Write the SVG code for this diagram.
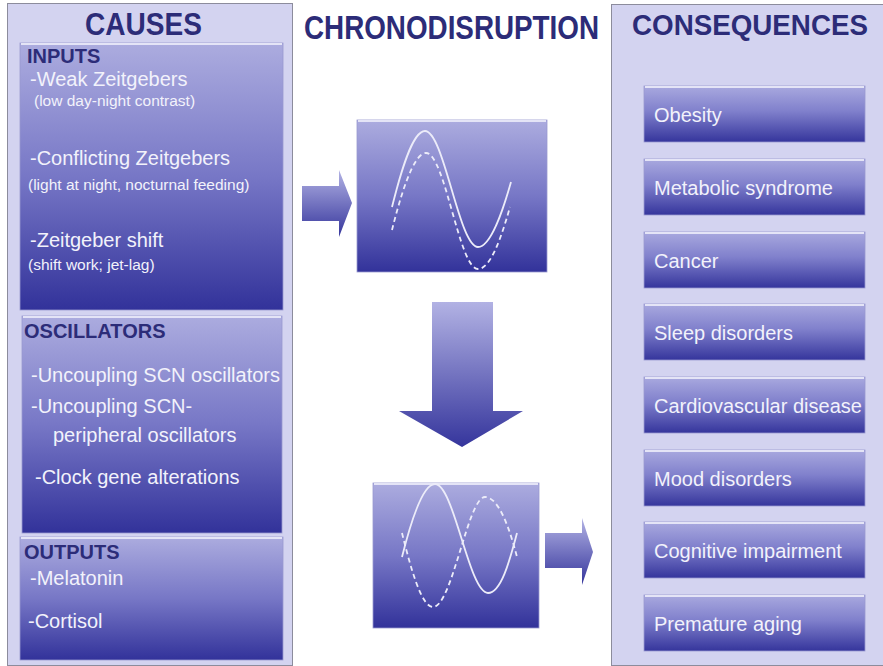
<svg xmlns="http://www.w3.org/2000/svg" width="883" height="666" viewBox="0 0 883 666">
<defs>
<linearGradient id="gBox" x1="0" y1="0" x2="0" y2="1">
<stop offset="0" stop-color="#acacdf"/>
<stop offset="0.5" stop-color="#7777c6"/>
<stop offset="1" stop-color="#32329a"/>
</linearGradient>
<linearGradient id="gBtn" x1="0" y1="0" x2="0" y2="1">
<stop offset="0" stop-color="#a9a9df"/>
<stop offset="0.45" stop-color="#8080cc"/>
<stop offset="1" stop-color="#35359c"/>
</linearGradient>
<linearGradient id="gArrow" x1="0" y1="0" x2="0" y2="1">
<stop offset="0" stop-color="#b2b2e4"/>
<stop offset="1" stop-color="#35359c"/>
</linearGradient>
<style>
.panel{fill:#d3d3f0;stroke:#8c8c9c;stroke-width:1}
.box{fill:url(#gBox);stroke:#9a9ad0;stroke-width:0.8}
.btn{fill:url(#gBtn);stroke:#9a9ad0;stroke-width:0.8}
.hl{stroke:#e4e4f6;stroke-width:2}
.title{font-family:"Liberation Sans",Arial,sans-serif;font-weight:bold;fill:#2c2c78}
.head{font-family:"Liberation Sans",Arial,sans-serif;font-weight:bold;font-size:20px;fill:#2c2c78}
.t{font-family:"Liberation Sans",Arial,sans-serif;font-size:20px;fill:#f2f2fb}
.s{font-family:"Liberation Sans",Arial,sans-serif;font-size:15.5px;fill:#f2f2fb}
.wave{fill:none;stroke:#ececf9;stroke-width:1.8}
.dash{stroke-dasharray:5 3.5}
.arrow{fill:url(#gArrow)}
</style>
</defs>
<rect width="883" height="666" fill="#ffffff"/>

<g id="causes-panel">
<rect class="panel" x="7.5" y="3.5" width="285" height="662"/>
<text class="title" x="85" y="35" font-size="31" textLength="117" lengthAdjust="spacingAndGlyphs">CAUSES</text>
</g>

<g id="inputs">
<rect class="box" x="20" y="43" width="263" height="267"/>
<line class="hl" x1="21" y1="44" x2="282" y2="44"/>
<text class="head" x="27" y="63">INPUTS</text>
<text class="t" x="30" y="86">-Weak Zeitgebers</text>
<text class="s" x="34" y="106">(low day-night contrast)</text>
<text class="t" x="30" y="165">-Conflicting Zeitgebers</text>
<text class="s" x="28" y="190">(light at night, nocturnal feeding)</text>
<text class="t" x="30" y="247">-Zeitgeber shift</text>
<text class="s" x="28" y="270">(shift work; jet-lag)</text>
</g>

<g id="oscillators">
<rect class="box" x="22" y="316" width="260" height="217"/>
<line class="hl" x1="23" y1="317" x2="281" y2="317"/>
<text class="head" x="24" y="338">OSCILLATORS</text>
<text class="t" x="31" y="382">-Uncoupling SCN oscillators</text>
<text class="t" x="31" y="413">-Uncoupling SCN-</text>
<text class="t" x="53" y="442">peripheral oscillators</text>
<text class="t" x="35" y="484">-Clock gene alterations</text>
</g>

<g id="outputs">
<rect class="box" x="20" y="537" width="263" height="123"/>
<line class="hl" x1="21" y1="538" x2="282" y2="538"/>
<text class="head" x="24" y="559">OUTPUTS</text>
<text class="t" x="30" y="585">-Melatonin</text>
<text class="t" x="28" y="628">-Cortisol</text>
</g>

<g id="chronodisruption-title">
<text class="title" x="304" y="39" font-size="33" textLength="295" lengthAdjust="spacingAndGlyphs">CHRONODISRUPTION</text>
</g>

<g id="wave-synced">
<rect class="box" x="357" y="120" width="190" height="152"/>
<line class="hl" x1="358" y1="121" x2="546" y2="121"/>
<path class="wave" d="M392,207 C400,175 412,131 425,131 C444,131 459,247 478,247 C491,247 503,210 511,182"/>
<path class="wave dash" d="M392,230 C400,198 413,153 426,153 C445,153 459,269 478,269 C491,269 502,235 510,207"/>
</g>

<g id="wave-disrupted">
<rect class="box" x="373" y="483" width="166" height="145"/>
<line class="hl" x1="374" y1="484" x2="538" y2="484"/>
<path class="wave" d="M402,557 C410,525 422,484 435,484 C454,484 469,593 488,593 C502,593 511,555 517,533"/>
<path class="wave dash" d="M402,533 C410,565 421,607 433,607 C452,607 468,497 485,497 C499,497 510,530 517,557"/>
</g>

<g id="consequences-panel">
<rect class="panel" x="611.5" y="4.5" width="272" height="661"/>
<text class="title" x="632" y="35" font-size="29" textLength="236" lengthAdjust="spacingAndGlyphs">CONSEQUENCES</text>
</g>

<g id="obesity">
<rect class="btn" x="644" y="86" width="221" height="56"/>
<line class="hl" x1="645" y1="87" x2="864" y2="87"/>
<text class="t" x="654" y="122">Obesity</text>
</g>
<g id="metabolic-syndrome">
<rect class="btn" x="644" y="159" width="221" height="56"/>
<line class="hl" x1="645" y1="160" x2="864" y2="160"/>
<text class="t" x="654" y="195">Metabolic syndrome</text>
</g>
<g id="cancer">
<rect class="btn" x="644" y="232" width="221" height="56"/>
<line class="hl" x1="645" y1="233" x2="864" y2="233"/>
<text class="t" x="654" y="268">Cancer</text>
</g>
<g id="sleep-disorders">
<rect class="btn" x="644" y="304" width="221" height="56"/>
<line class="hl" x1="645" y1="305" x2="864" y2="305"/>
<text class="t" x="654" y="340">Sleep disorders</text>
</g>
<g id="cardiovascular-disease">
<rect class="btn" x="644" y="377" width="221" height="56"/>
<line class="hl" x1="645" y1="378" x2="864" y2="378"/>
<text class="t" x="654" y="413">Cardiovascular disease</text>
</g>
<g id="mood-disorders">
<rect class="btn" x="644" y="450" width="221" height="56"/>
<line class="hl" x1="645" y1="451" x2="864" y2="451"/>
<text class="t" x="654" y="486">Mood disorders</text>
</g>
<g id="cognitive-impairment">
<rect class="btn" x="644" y="522" width="221" height="56"/>
<line class="hl" x1="645" y1="523" x2="864" y2="523"/>
<text class="t" x="654" y="558">Cognitive impairment</text>
</g>
<g id="premature-aging">
<rect class="btn" x="644" y="595" width="221" height="56"/>
<line class="hl" x1="645" y1="596" x2="864" y2="596"/>
<text class="t" x="654" y="631">Premature aging</text>
</g>

<g id="connectors">
<path class="arrow" d="M302,186 L339,186 L339,170 L352,203 L339,237 L339,221 L302,221 Z"/>
<path class="arrow" d="M432,302 L493,302 L493,411 L523,411 L462,447 L399,411 L432,411 Z"/>
<path class="arrow" d="M545,533 L582,533 L582,518 L593,552 L582,585 L582,568 L545,568 Z"/>
</g>
</svg>
